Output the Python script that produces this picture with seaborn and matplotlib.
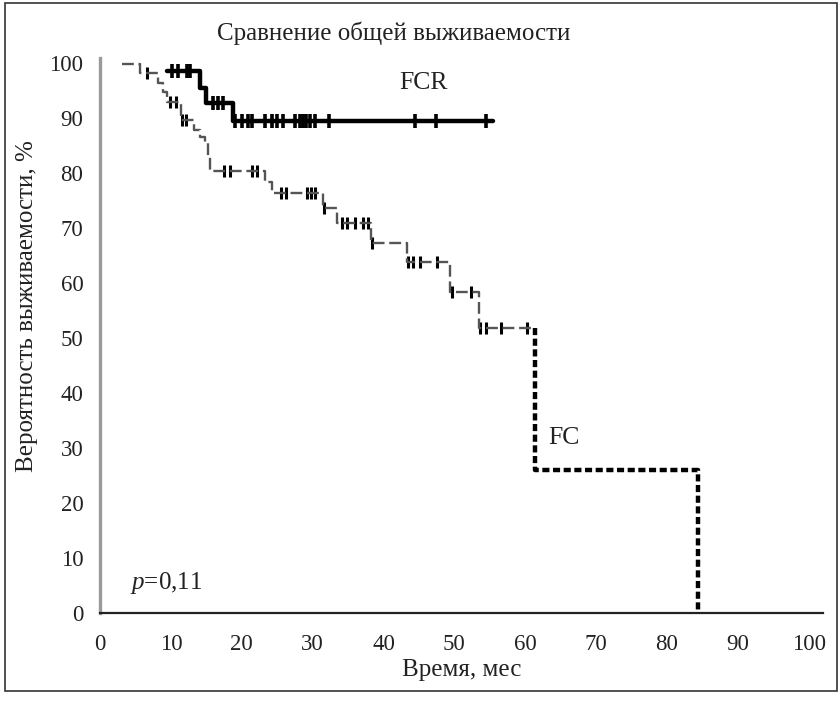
import numpy as np
import pandas as pd
import seaborn as sns
import matplotlib
matplotlib.use("Agg")
import matplotlib.pyplot as plt
from matplotlib.patches import Rectangle

# ---------------- data ----------------
title = "Сравнение общей выживаемости"
xlabel = "Время, мес"
ylabel = "Вероятность выживаемости, %"
xticks = [0, 10, 20, 30, 40, 50, 60, 70, 80, 90, 100]
yticks = [0, 10, 20, 30, 40, 50, 60, 70, 80, 90, 100]

# FCR Kaplan-Meier steps (time of step, survival after step); last = end of follow-up
fcr_time = [9.4, 14.1, 15.0, 18.8, 55.4]
fcr_surv = [98.6, 95.5, 92.7, 89.4, 89.4]
fcr_censor = [10.2, 11.0, 12.3, 12.7, 15.9, 16.6, 17.3, 19.0, 20.0, 20.9, 21.4,
              23.3, 24.3, 25.0, 25.8, 27.5, 28.2, 28.7, 29.1, 29.6, 30.3, 32.3,
              44.4, 47.4, 54.5]

# FC Kaplan-Meier steps
fc_time = [3.1, 5.6, 8.2, 8.9, 9.5, 11.4, 13.2, 14.1, 14.8, 15.3, 15.5, 23.3,
           24.2, 31.4, 33.4, 38.3, 43.3, 49.4, 53.4, 61.3, 84.4]
fc_surv = [99.8, 98.2, 96.4, 94.7, 93.0, 89.6, 87.8, 86.6, 85.4, 83.0, 80.3, 78.4,
           76.4, 73.6, 70.9, 67.2, 63.8, 58.4, 51.9, 26.0, 0.0]
fc_censor = [6.6, 9.9, 10.7, 11.5, 12.2, 17.5, 18.4, 21.5, 22.2, 25.6, 26.3, 29.2,
             29.8, 30.3, 31.6, 34.1, 34.8, 36.0, 37.1, 37.8, 38.4, 43.4, 44.2,
             45.1, 47.5, 49.6, 52.4, 53.6, 54.5, 56.6, 60.2]

p_text = "$p$=0,11"
label_fcr = "FCR"
label_fc = "FC"

# ---------------- style ----------------
sns.set_theme(style="white")
plt.rcParams["font.family"] = ["Liberation Serif", "DejaVu Serif"]
plt.rcParams["mathtext.fontset"] = "custom"
plt.rcParams["mathtext.it"] = "Liberation Serif:italic"
plt.rcParams["mathtext.rm"] = "Liberation Serif"
txt = "#222222"

W, H = 840, 704
fig = plt.figure(figsize=(W / 100, H / 100), dpi=100)
ax = fig.add_axes([100 / W, 1 - 613 / H, 723 / W, (613 - 57.5) / H])


def step_value(times, survs, t):
    i = np.searchsorted(times, t, side="right") - 1
    return survs[max(i, 0)]


# FCR curve
sns.lineplot(x=fcr_time, y=fcr_surv, ax=ax, estimator=None, sort=False,
             drawstyle="steps-post", color="black", linewidth=3.2)
fcr_cy = [step_value(fcr_time, fcr_surv, t) for t in fcr_censor]
sns.scatterplot(x=fcr_censor, y=fcr_cy, ax=ax, marker="|", s=90,
                color="black", linewidth=2.6)

# FC curve: upper part (thin dashed) up to the drop at 61.3
k = fc_time.index(61.3)
up_t = fc_time[:k] + [fc_time[k]]
up_s = fc_surv[:k] + [fc_surv[k - 1]]
sns.lineplot(x=up_t, y=up_s, ax=ax, estimator=None, sort=False,
             drawstyle="steps-post", color="#555555", linewidth=1.7,
             linestyle=(0, (5, 2)))
# lower part (bold dotted)
lo_t = [fc_time[k], fc_time[k + 1], fc_time[k + 1]]
lo_s = [fc_surv[k - 1], fc_surv[k], fc_surv[k + 1]]
sns.lineplot(x=lo_t, y=lo_s, ax=ax, estimator=None, sort=False,
             drawstyle="steps-pre", color="black", linewidth=3.2,
             linestyle=(0, (1.6, 0.8)))
fc_cy = [step_value(fc_time, fc_surv, t) for t in fc_censor]
sns.scatterplot(x=fc_censor, y=fc_cy, ax=ax, marker="|", s=70,
                color="black", linewidth=2.2)

# axes
ax.set_xlim(0, 102)
ax.set_ylim(0, 101)
ax.set_xticks(xticks)
ax.set_yticks(yticks)
ax.tick_params(axis="both", length=0, labelsize=16.5, colors=txt)
ax.tick_params(axis="x", pad=15)
ax.tick_params(axis="y", pad=12)
for s in ["top", "right"]:
    ax.spines[s].set_visible(False)
ax.spines["left"].set_color("#9a9a9a")
ax.spines["left"].set_linewidth(2.4)
ax.spines["bottom"].set_color("#222222")
ax.spines["bottom"].set_linewidth(1.6)
ax.set_xlabel(xlabel, fontsize=18, color=txt, labelpad=3)
ax.set_ylabel("")
ax.grid(False)

ax.text(45.6, 96.4, label_fcr, fontsize=18.5, color=txt, ha="center", va="center")
ax.text(63.2, 31.8, label_fc, fontsize=18.5, color=txt, ha="left", va="center")
ax.text(4.2, 5.5, p_text, fontsize=18, color=txt, ha="left", va="center")

fig.text(394 / W, 1 - 33 / H, title, fontsize=18, color=txt, ha="center", va="center")
fig.text(27 / W, 1 - 306 / H, ylabel, fontsize=18, color=txt, ha="center",
         va="center", rotation=90)

# outer frame
fig.patches.append(Rectangle((5 / W, 1 - 691 / H), (837 - 5) / W, (691 - 3) / H,
                             transform=fig.transFigure, fill=False,
                             edgecolor="#333333", linewidth=1.2))

fig.savefig("out.png", dpi=100, facecolor="white")
